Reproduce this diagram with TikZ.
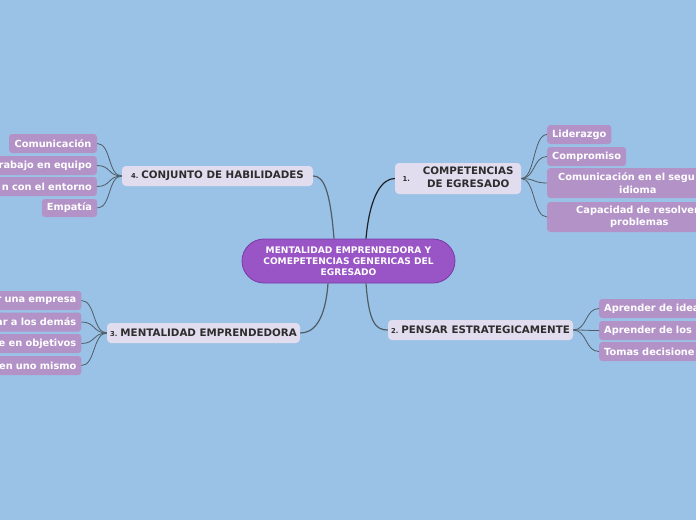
\documentclass[tikz,border=0pt]{standalone}
\usepackage{fontspec}
\setmainfont{DejaVu Sans}
\definecolor{bg}{RGB}{154,194,230}
\definecolor{cfill}{RGB}{153,84,198}
\definecolor{cborder}{RGB}{120,58,165}
\definecolor{tfill}{RGB}{226,220,239}
\definecolor{tcol}{RGB}{45,45,45}
\definecolor{sfill}{RGB}{179,147,199}
\definecolor{lcol}{RGB}{80,92,102}
\definecolor{dcol}{RGB}{30,34,40}
\newcommand{\numf}{\fontsize{6.8}{8}\selectfont}
\begin{document}
\begin{tikzpicture}[x=1pt,y=-1pt,
  central/.style={draw=cborder, line width=0.8pt, fill=cfill, rounded corners=22pt, minimum width=213pt, minimum height=44pt, text=white, font=\fontsize{9.1}{11}\selectfont\bfseries, align=center, inner sep=0pt},
  topic/.style={fill=tfill, rounded corners=4pt, text=tcol, font=\fontsize{10.3}{13}\selectfont\bfseries, inner sep=0pt, minimum height=20pt},
  sub/.style={fill=sfill, rounded corners=3pt, text=white, font=\fontsize{9.8}{12.5}\selectfont\bfseries, minimum height=19pt, inner xsep=5pt, inner ysep=0pt},
  subr/.style={sub, anchor=east, text width=130pt, align=right},
  subl/.style={sub, anchor=west, text width=130pt, align=left},
  mainc/.style={draw=lcol, line width=1.2pt},
  mainb/.style={draw=dcol, line width=1.2pt},
  subc/.style={draw=lcol, line width=0.8pt}
]
\useasboundingbox (0,0) rectangle (696,520);
\fill[bg] (0,0) rectangle (696,520);
\clip (0,0) rectangle (696,520);

% central
\node[central] (c) at (348.5,261) {MENTALIDAD EMPRENDEDORA Y\\COMEPETENCIAS GENERICAS DEL\\EGRESADO};

% topics
\node[topic, minimum width=126pt, minimum height=31pt] (comp) at (458,178.5) {{\numf 1.}\hspace{13pt}\begin{tabular}{@{}c@{}}COMPETENCIAS\\DE EGRESADO\end{tabular}};
\node[topic, minimum width=191pt] (conj) at (217.5,176) {{\numf 4.}\hspace{3pt}CONJUNTO DE HABILIDADES};
\node[topic, minimum width=193pt] (ment) at (203.5,333) {{\numf 3.}\hspace{3pt}MENTALIDAD EMPRENDEDORA};
\node[topic, minimum width=185pt] (pens) at (480.5,330) {{\numf 2.}\hspace{3pt}PENSAR ESTRATEGICAMENTE};

% subtopics of CONJUNTO
\node[sub, minimum width=88pt] (h1) at (53,143.5) {Comunicación};
\node[subr] (h2) at (97,165.5) {rabajo en equipo};
\node[subr] (h3) at (97,186.5) {n con el entorno};
\node[sub, minimum width=55pt, minimum height=18pt] (h4) at (69.5,208) {Empatía};

% subtopics of COMPETENCIAS
\node[sub, anchor=west] (p1) at (547,134.5) {Liderazgo};
\node[sub, anchor=west] (p2) at (547,156.5) {Compromiso};
\node[sub, anchor=west, text width=190pt, inner xsep=0pt, minimum height=30pt, align=left] (p3) at (547,183) {\hspace*{11pt}Comunicación en el segu\\\hspace*{72pt}idioma};
\node[sub, anchor=west, text width=190pt, inner xsep=0pt, minimum height=30pt, align=left] (p4) at (547,217) {\hspace*{29pt}Capacidad de resolver\\\hspace*{63pt}problemas};

% subtopics of MENTALIDAD
\node[subr] (m1) at (81.5,300.5) {r una empresa};
\node[subr] (m2) at (81.5,322) {ar a los demás};
\node[subr] (m3) at (81.5,343.5) {e en objetivos};
\node[subr] (m4) at (81.5,365.5) {en uno mismo};

% subtopics of PENSAR
\node[subl] (e1) at (599,308.5) {Aprender de idea};
\node[subl] (e2) at (599,330.5) {Aprender de los};
\node[subl] (e3) at (599,351.5) {Tomas decisione};

% main connectors
\draw[mainc] ([xshift=-14.5pt]c.north) .. controls +(-4,-50) and +(10,0) .. (conj.east);
\draw[mainb] ([xshift=17.5pt]c.north) .. controls +(4,-45) and +(-12,0) .. (comp.west);
\draw[mainc] ([xshift=-20.5pt]c.south) .. controls +(-3,40) and +(12,0) .. (ment.east);
\draw[mainc] ([xshift=17.5pt]c.south) .. controls +(3,40) and +(-12,0) .. (pens.west);

% sub connectors
\foreach \s in {h1,h2,h3,h4}
  \draw[subc] (conj.west) .. controls +(-14,0) and +(14,0) .. (\s.east);
\foreach \s in {p1,p2,p3,p4}
  \draw[subc] (comp.east) .. controls +(14,0) and +(-14,0) .. (\s.west);
\foreach \s in {m1,m2,m3,m4}
  \draw[subc] (ment.west) .. controls +(-14,0) and +(14,0) .. (\s.east);
\foreach \s in {e1,e2,e3}
  \draw[subc] (pens.east) .. controls +(14,0) and +(-14,0) .. (\s.west);
\end{tikzpicture}
\end{document}
